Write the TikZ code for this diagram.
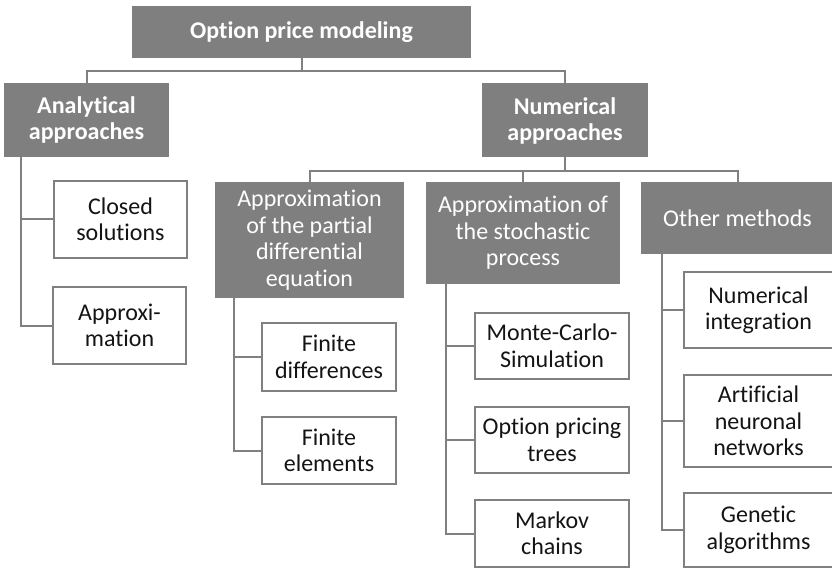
\documentclass[tikz,border=0pt]{standalone}
\usepackage{fontspec}
\setmainfont{Carlito}[Ligatures={NoCommon,NoContextual}]
\usetikzlibrary{calc}
\definecolor{boxgray}{RGB}{127,127,127}
\definecolor{linegray}{RGB}{128,128,128}
\definecolor{inktext}{RGB}{20,20,20}
\tikzset{
  base/.style={rectangle, inner sep=0pt, align=center,
    font=\fontsize{24}{26.5}\selectfont, line width=2pt},
  head/.style={base, fill=boxgray, draw=boxgray, text=white, font=\fontsize{24}{26}\selectfont\bfseries},
  group/.style={base, fill=boxgray, draw=boxgray, text=white},
  leaf/.style={base, fill=white, draw=linegray, text=inktext},
  conn/.style={draw=linegray, line width=2pt},
}
\begin{document}
\begin{tikzpicture}[x=1pt, y=-1pt]
\useasboundingbox (0,0) rectangle (832,569);

% root and first level
\node[head, minimum width=337pt, minimum height=50pt] (root) at (301.5,32) {Option price modeling};
\node[head, minimum width=163pt, minimum height=72pt] (ana) at (86.5,120) {Analytical\\approaches};
\node[head, minimum width=164pt, minimum height=72pt] (num) at (565,120.5) {Numerical\\approaches};

% analytical branch
\node[leaf, minimum width=133pt, minimum height=77pt] (cs) at (120.5,219.5) {Closed\\solutions};
\node[leaf, minimum width=133pt, minimum height=77pt] (ap) at (119.5,325.5) {Approxi-\\mation};

% numerical groups
\node[group, minimum width=187pt, minimum height=114pt] (pde) at (309.5,240) {Approximation\\of the partial\\differential\\equation};
\node[group, minimum width=192pt, minimum height=100pt] (sto) at (523,233) {Approximation of\\the stochastic\\process};
\node[group, minimum width=191pt, minimum height=70pt] (oth) at (737.5,218) {Other methods};

% PDE methods
\node[leaf, minimum width=134pt, minimum height=68pt] (fd) at (329,357) {Finite\\differences};
\node[leaf, minimum width=134pt, minimum height=67pt] (fe) at (329,450.5) {Finite\\elements};

% stochastic process methods
\node[leaf, minimum width=154pt, minimum height=66pt] (mc) at (552,346) {Monte-Carlo-\\Simulation};
\node[leaf, minimum width=154pt, minimum height=66pt] (opt) at (552,440) {Option pricing\\trees};
\node[leaf, minimum width=154pt, minimum height=67pt] (mk) at (552,533.5) {Markov\\chains};

% other methods
\node[leaf, minimum width=149pt, minimum height=76pt] (ni) at (758.5,310) {Numerical\\integration};
\node[leaf, minimum width=149pt, minimum height=92pt] (ann) at (758.5,421) {Artificial\\neuronal\\networks};
\node[leaf, minimum width=149pt, minimum height=74pt] (ga) at (758.5,530) {Genetic\\algorithms};

% tree connectors
\draw[conn] (root.south) -- ++(0,13) -| (ana.north);
\draw[conn] (root.south) -- ++(0,13) -| (num.north);
\draw[conn] (num.south) -- ++(0,13.5) -| (pde.north);
\draw[conn] (num.south) -- ++(0,13.5) -| (sto.north);
\draw[conn] (num.south) -- ++(0,13.5) -| (oth.north);

% side connectors
\draw[conn] ($(ana.south west)+(17,0)$) |- (cs.west);
\draw[conn] ($(ana.south west)+(17,0)$) |- (ap.west);
\draw[conn] ($(pde.south west)+(19,0)$) |- (fd.west);
\draw[conn] ($(pde.south west)+(19,0)$) |- (fe.west);
\draw[conn] ($(sto.south west)+(20,0)$) |- (mc.west);
\draw[conn] ($(sto.south west)+(20,0)$) |- (opt.west);
\draw[conn] ($(sto.south west)+(20,0)$) |- (mk.west);
\draw[conn] ($(oth.south west)+(21,0)$) |- (ni.west);
\draw[conn] ($(oth.south west)+(21,0)$) |- (ann.west);
\draw[conn] ($(oth.south west)+(21,0)$) |- (ga.west);
\end{tikzpicture}
\end{document}
